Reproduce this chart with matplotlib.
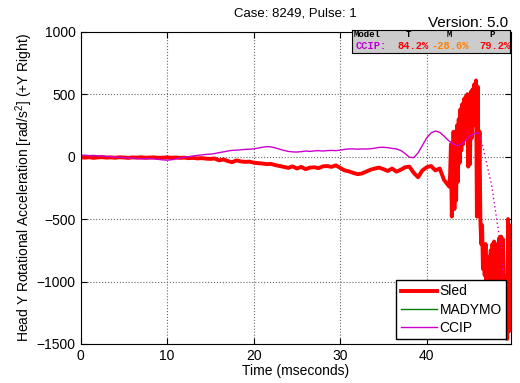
import numpy as np
import matplotlib.pyplot as plt

plt.rcParams['font.family'] = ['Liberation Sans', 'DejaVu Sans']
plt.rcParams['mathtext.default'] = 'regular'

# Sled signal: 0.5 ms steps up to 42.5, then 0.1 ms steps to 49.7
sled_t1 = np.arange(0, 42.51, 0.5)
sled_v1 = [-5, -8, -5, -10, -6, -4, -8, -6, -9, -5, -7, -10, -6, -8, -5, -9, -7, -6, -10, -8,
           -6, -9, -7, -10, -8, -12, -10, -14, -12, -16, -18, -15, -30, -22, -35, -45, -30, -38,
           -42, -40, -48, -52, -55, -60, -58, -68, -75, -82, -90, -78, -95, -82, -100, -88, -85,
           -92, -78, -75, -82, -70, -90, -110, -118, -130, -140, -135, -120, -105, -95, -88, -100,
           -115, -95, -120, -105, -85, -80, -130, -165, -110, -85, -75, -110, -95, -186, -230]
sled_t2 = np.arange(42.6, 49.71, 0.1)
sled_v2 = [-240, -150, 100, -480, -300, 200, -420, 80, -350, 250, -200, 300, -50, 380, 50, 420,
           100, 460, 150, 480, 200, 500, -80, 470, -60, 520, 150, 540, 250, 580, 300, 610, -480,
           560, -300, 200, -500, -700, -550, -900, -750, -950, -700, -1050, -800, -1300, -900,
           -1450, -750, -1400, -700, -1200, -680, -1300, -720, -1150, -700, -1250, -650, -1100,
           -640, -900, -660, -1000, -1200, -960, -1100, -1460, -500, -1400, -550, -1200]

# CCIP model
ccip_t = np.arange(0, 46.01, 0.5)
ccip_v = [10, 12, 8, 10, 6, 5, 2, 0, -3, -5, -8, -10, -12, -15, -18, -17, -16, -18, -22, -26,
          -28, -25, -18, -10, -5, 0, 5, 10, 14, 18, 20, 25, 32, 38, 45, 50, 52, 55, 58, 60, 62,
          68, 75, 80, 78, 70, 60, 50, 42, 38, 37, 40, 45, 42, 46, 48, 45, 48, 50, 48, 52, 58, 62,
          62, 60, 62, 61, 63, 68, 74, 75, 72, 66, 62, 50, 25, -5, -8, 30, 90, 150, 190, 205, 195,
          165, 130, 105, 88, 100, 130, 165, 185, 190]
ccip_tail_t = [46.0, 46.5, 47.1, 47.5, 48.1, 48.5, 48.9, 49.4]
ccip_tail_v = [190, 80, -107, -226, -506, -690, -986, -1250]

fig = plt.figure(figsize=(5.2, 3.83), dpi=100)
ax = fig.add_axes([0.155, 0.102, 0.827, 0.815])

sled_t = np.concatenate([sled_t1, sled_t2])
sled_v = np.concatenate([sled_v1, sled_v2])
ax.plot(sled_t, sled_v, color='red', linewidth=2.8, label='Sled')
ax.plot([], [], color=(0, 0.5, 0), linewidth=1, label='MADYMO')
ax.plot(ccip_t, ccip_v, color='#cc00cc', linewidth=1, label='CCIP')
ax.plot(ccip_tail_t, ccip_tail_v, color='#cc00cc', linewidth=1, linestyle=(0, (1, 2)))

ax.set_xlim(0, 49.7)
ax.set_ylim(-1500, 1000)
ax.set_xticks([0, 10, 20, 30, 40])
ax.set_yticks([-1500, -1000, -500, 0, 500, 1000])
ax.tick_params(direction='in', top=True, right=True, labelsize=10, length=4)
ax.grid(True, color='0.4', linestyle=':', linewidth=0.8)
ax.set_xlabel('Time (mseconds)', fontsize=10, labelpad=1)
ax.set_ylabel('Head Y Rotational Acceleration [rad/s$^{2}$] (+Y Right)', fontsize=10, labelpad=1)
ax.set_title('Case: 8249, Pulse: 1', fontsize=9.5, pad=11)
fig.text(508/520, 1 - 27/383, 'Version: 5.0', ha='right', va='baseline', fontsize=11)

leg = ax.legend(loc='lower right', bbox_to_anchor=(0.989, 0.016), fontsize=10,
                fancybox=False, framealpha=1, edgecolor='black', borderaxespad=0,
                handlelength=2.6, handletextpad=0.2, labelspacing=0.3, borderpad=0.3)
leg.get_frame().set_linewidth(1)

# rating box
bx = fig.add_axes([352/520, 1 - 53/383, 158/520, 23/383])
bx.set_facecolor('0.8')
bx.set_xticks([])
bx.set_yticks([])
mono = 'Liberation Mono'
for x, s in [(0.01, 'Model'), (0.34, 'T'), (0.6, 'M'), (0.87, 'P')]:
    bx.text(x, 0.68, s, family=mono, fontweight='bold', fontsize=6.5, va='baseline',
            clip_on=True)
row = [(0.02, 'CCIP:', '#c000d0'), (0.29, '84.2%', 'red'),
       (0.5, '-28.6%', '#ff8000'), (0.805, '79.2%', 'red')]
for x, s, c in row:
    bx.text(x, 0.18, s, family=mono, fontweight='bold', fontsize=7.5, color=c, va='baseline')

fig.savefig('out.png', dpi=100)
